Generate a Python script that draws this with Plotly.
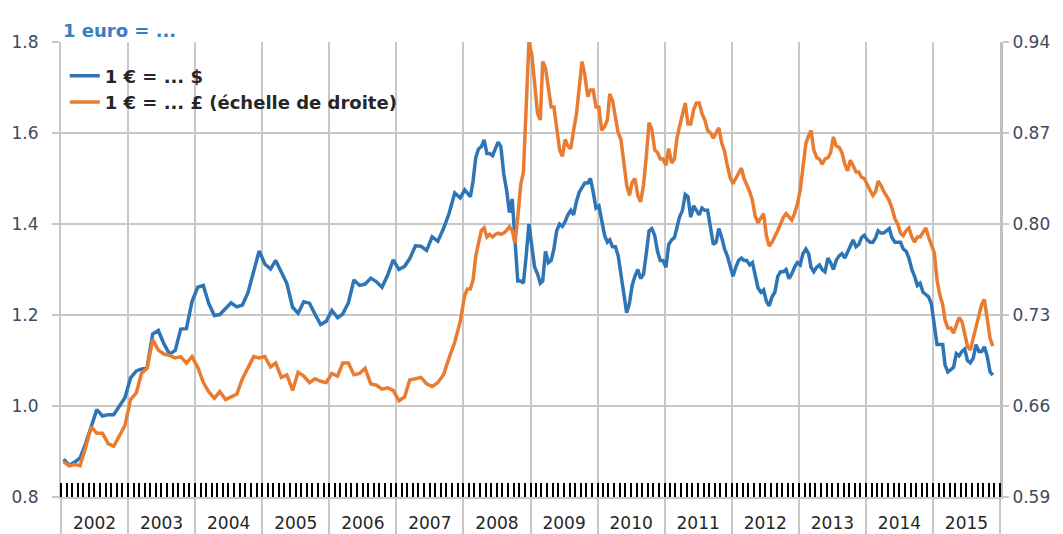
import plotly.graph_objects as go

# ---------------- data ----------------
# Monthly values 2002-2007 (one value per month)
usd_2002 = [0.883, 0.870, 0.876, 0.886, 0.917, 0.955, 0.992, 0.978, 0.981, 0.981, 1.001, 1.018]
usd_2003 = [1.062, 1.077, 1.081, 1.085, 1.158, 1.166, 1.137, 1.114, 1.122, 1.169, 1.170, 1.229]
usd_2004 = [1.261, 1.265, 1.226, 1.199, 1.201, 1.214, 1.227, 1.218, 1.222, 1.249, 1.299, 1.341]
usd_2005 = [1.312, 1.301, 1.320, 1.294, 1.269, 1.217, 1.204, 1.229, 1.226, 1.202, 1.179, 1.186]
usd_2006 = [1.210, 1.194, 1.202, 1.227, 1.277, 1.265, 1.268, 1.281, 1.273, 1.261, 1.288, 1.321]
usd_2007 = [1.300, 1.307, 1.324, 1.352, 1.351, 1.342, 1.372, 1.362, 1.390, 1.423, 1.468, 1.457]

gbp_2002 = [0.617, 0.614, 0.615, 0.614, 0.628, 0.644, 0.639, 0.639, 0.631, 0.629, 0.637, 0.645]
gbp_2003 = [0.665, 0.670, 0.685, 0.689, 0.711, 0.703, 0.700, 0.699, 0.697, 0.698, 0.693, 0.698]
gbp_2004 = [0.690, 0.678, 0.671, 0.666, 0.671, 0.665, 0.667, 0.669, 0.681, 0.689, 0.698, 0.697]
gbp_2005 = [0.698, 0.690, 0.693, 0.682, 0.684, 0.672, 0.686, 0.683, 0.678, 0.681, 0.679, 0.678]
gbp_2006 = [0.685, 0.683, 0.693, 0.693, 0.684, 0.685, 0.689, 0.677, 0.676, 0.673, 0.674, 0.672]
gbp_2007 = [0.664, 0.667, 0.680, 0.681, 0.682, 0.677, 0.675, 0.678, 0.684, 0.697, 0.709, 0.725]

# Half-monthly values 2008-2015 (early / late in each month)
usd_2008 = [1.475, 1.468, 1.460, 1.495, 1.545, 1.565, 1.570, 1.585, 1.555, 1.555, 1.550, 1.565,
            1.580, 1.570, 1.510, 1.475, 1.425, 1.455, 1.370, 1.275, 1.275, 1.270, 1.330, 1.400]
usd_2009 = [1.350, 1.305, 1.290, 1.270, 1.275, 1.340, 1.315, 1.320, 1.345, 1.385, 1.400, 1.395,
            1.405, 1.420, 1.430, 1.420, 1.450, 1.470, 1.480, 1.490, 1.490, 1.500, 1.470, 1.435]
usd_2010 = [1.440, 1.410, 1.375, 1.360, 1.365, 1.350, 1.350, 1.330, 1.285, 1.240, 1.205, 1.225,
            1.265, 1.285, 1.300, 1.280, 1.290, 1.335, 1.385, 1.390, 1.375, 1.340, 1.320, 1.320]
usd_2011 = [1.305, 1.355, 1.365, 1.370, 1.395, 1.415, 1.430, 1.465, 1.460, 1.415, 1.440, 1.430,
            1.420, 1.435, 1.430, 1.430, 1.385, 1.355, 1.360, 1.390, 1.370, 1.345, 1.330, 1.305]
usd_2012 = [1.285, 1.305, 1.320, 1.325, 1.320, 1.320, 1.310, 1.315, 1.285, 1.260, 1.250, 1.255,
            1.230, 1.220, 1.240, 1.250, 1.285, 1.295, 1.295, 1.300, 1.280, 1.290, 1.305, 1.315]
usd_2013 = [1.310, 1.335, 1.345, 1.335, 1.305, 1.295, 1.305, 1.310, 1.300, 1.295, 1.325, 1.315,
            1.300, 1.320, 1.330, 1.335, 1.325, 1.340, 1.355, 1.365, 1.350, 1.355, 1.370, 1.375]
usd_2014 = [1.365, 1.360, 1.360, 1.370, 1.385, 1.380, 1.380, 1.385, 1.390, 1.370, 1.360, 1.360,
            1.360, 1.345, 1.340, 1.325, 1.300, 1.285, 1.265, 1.270, 1.250, 1.245, 1.240, 1.225]
usd_2015 = [1.175, 1.135, 1.135, 1.135, 1.090, 1.075, 1.080, 1.085, 1.115, 1.110, 1.120, 1.125,
            1.100, 1.095, 1.105, 1.135, 1.120, 1.120, 1.130, 1.110, 1.075, 1.068]

gbp_2008 = [0.745, 0.750, 0.750, 0.757, 0.775, 0.785, 0.795, 0.797, 0.790, 0.792, 0.790, 0.792,
            0.793, 0.792, 0.793, 0.795, 0.798, 0.795, 0.785, 0.805, 0.830, 0.840, 0.885, 0.940]
gbp_2009 = [0.930, 0.905, 0.885, 0.880, 0.925, 0.920, 0.905, 0.890, 0.890, 0.872, 0.857, 0.852,
            0.865, 0.860, 0.858, 0.872, 0.885, 0.905, 0.925, 0.915, 0.898, 0.903, 0.903, 0.890]
gbp_2010 = [0.890, 0.872, 0.875, 0.880, 0.900, 0.895, 0.880, 0.870, 0.865, 0.850, 0.830, 0.822,
            0.832, 0.835, 0.822, 0.817, 0.830, 0.852, 0.878, 0.873, 0.857, 0.855, 0.850, 0.850]
gbp_2011 = [0.845, 0.858, 0.847, 0.850, 0.865, 0.875, 0.885, 0.893, 0.877, 0.877, 0.888, 0.893,
            0.893, 0.885, 0.880, 0.872, 0.870, 0.866, 0.870, 0.874, 0.862, 0.856, 0.845, 0.836]
gbp_2012 = [0.831, 0.835, 0.840, 0.843, 0.835, 0.830, 0.825, 0.818, 0.806, 0.801, 0.805, 0.808,
            0.791, 0.783, 0.786, 0.790, 0.795, 0.800, 0.805, 0.808, 0.805, 0.803, 0.808, 0.815]
gbp_2013 = [0.826, 0.845, 0.862, 0.868, 0.872, 0.857, 0.851, 0.850, 0.846, 0.850, 0.851, 0.855,
            0.867, 0.860, 0.859, 0.855, 0.846, 0.841, 0.849, 0.845, 0.840, 0.840, 0.836, 0.835]
gbp_2014 = [0.830, 0.826, 0.822, 0.825, 0.833, 0.830, 0.825, 0.822, 0.818, 0.812, 0.804, 0.800,
            0.793, 0.791, 0.795, 0.797, 0.790, 0.786, 0.790, 0.790, 0.794, 0.797, 0.790, 0.785]
gbp_2015 = [0.778, 0.757, 0.745, 0.738, 0.726, 0.720, 0.720, 0.716, 0.722, 0.728, 0.725, 0.716,
            0.706, 0.703, 0.712, 0.722, 0.731, 0.738, 0.742, 0.726, 0.712, 0.706]

left_ticks = [0.8, 1.0, 1.2, 1.4, 1.6, 1.8]
right_ticks = [0.59, 0.66, 0.73, 0.80, 0.87, 0.94]

title_text = "1 euro = ..."
name_usd = "1 € = ... $"
name_gbp = "1 € = ... £ (échelle de droite)"

monthly_usd = {2002: usd_2002, 2003: usd_2003, 2004: usd_2004, 2005: usd_2005, 2006: usd_2006, 2007: usd_2007}
monthly_gbp = {2002: gbp_2002, 2003: gbp_2003, 2004: gbp_2004, 2005: gbp_2005, 2006: gbp_2006, 2007: gbp_2007}
half_usd = {2008: usd_2008, 2009: usd_2009, 2010: usd_2010, 2011: usd_2011,
            2012: usd_2012, 2013: usd_2013, 2014: usd_2014, 2015: usd_2015}
half_gbp = {2008: gbp_2008, 2009: gbp_2009, 2010: gbp_2010, 2011: gbp_2011,
            2012: gbp_2012, 2013: gbp_2013, 2014: gbp_2014, 2015: gbp_2015}


def build(monthly, half):
    xs, ys = [], []
    for yr, vals in monthly.items():
        for i, v in enumerate(vals):
            xs.append(f"{yr}-{i + 1:02d}-15")
            ys.append(v)
    for yr, vals in half.items():
        for i, v in enumerate(vals):
            day = 8 if i % 2 == 0 else 23
            xs.append(f"{yr}-{i // 2 + 1:02d}-{day:02d}")
            ys.append(v)
    return xs, ys


usd_x, usd_y = build(monthly_usd, half_usd)
gbp_x, gbp_y = build(monthly_gbp, half_gbp)

BLUE = "#2E75B6"
ORANGE = "#E97C30"
GRID = "#C8C8C8"
FONT = "DejaVu Sans"
TICKCOL = "#404a5e"

fig = go.Figure()
fig.add_trace(go.Scatter(x=usd_x, y=usd_y, mode="lines", name="<b>" + name_usd + "</b>",
                         line=dict(color=BLUE, width=3.5), yaxis="y"))
fig.add_trace(go.Scatter(x=gbp_x, y=gbp_y, mode="lines", name="<b>" + name_gbp + "</b>",
                         line=dict(color=ORANGE, width=3.5), yaxis="y2"))

# The page body adds an 8px offset, so the figure is 8px smaller and margins shifted.
fig.update_layout(
    width=1055, height=526,
    margin=dict(l=53, r=63, t=34, b=37, autoexpand=False),
    paper_bgcolor="white", plot_bgcolor="white",
    font=dict(family=FONT, size=17, color="#333333"),
    showlegend=True,
    legend=dict(x=0.004, y=0.966, xanchor="left", yanchor="top",
                bgcolor="rgba(0,0,0,0)", font=dict(family=FONT, size=18, color="#262626"),
                tracegroupgap=0, itemwidth=30),
    xaxis=dict(
        type="date", range=["2002-01-01", "2016-01-01"], automargin=False,
        dtick="M12", tick0="2002-01-01", tickformat="%Y", ticklabelmode="period",
        ticks="outside", ticklen=37, tickwidth=2, tickcolor=GRID,
        showgrid=True, gridcolor=GRID, gridwidth=2,
        showline=True, linecolor=GRID, linewidth=2,
        tickfont=dict(family=FONT, size=17, color="#262626"),
        ticklabelstandoff=-27,
        minor=dict(ticks="inside", ticklen=14, tickwidth=2, tickcolor="black",
                   dtick="M1", tick0="2002-01-01", showgrid=False),
    ),
    yaxis=dict(
        range=[0.8, 1.8], tickmode="array", tickvals=left_ticks, automargin=False,
        ticktext=[f"{v:.1f}" for v in left_ticks],
        ticks="outside", ticklen=7, tickwidth=2, tickcolor=GRID,
        showgrid=True, gridcolor=GRID, gridwidth=2, zeroline=False,
        showline=True, linecolor=GRID, linewidth=2,
        tickfont=dict(family=FONT, size=17, color=TICKCOL),
        ticklabelstandoff=10,
    ),
    yaxis2=dict(
        range=[0.59, 0.94], tickmode="array", tickvals=right_ticks, automargin=False,
        ticktext=[f"{v:.2f}" for v in right_ticks],
        overlaying="y", side="right",
        ticks="outside", ticklen=6, tickwidth=2, tickcolor=GRID,
        showgrid=False, zeroline=False,
        showline=True, linecolor="#C0C0C0", linewidth=3,
        tickfont=dict(family=FONT, size=17, color=TICKCOL),
        ticklabelstandoff=0,
    ),
    annotations=[dict(text="<b>" + title_text + "</b>", x=0.0, xref="paper", xanchor="left",
                      y=1.0, yref="paper", yanchor="bottom", yshift=-1, showarrow=False,
                      font=dict(family=FONT, size=18, color="#3B7DC4"))],
)

fig.write_html("out.html")
